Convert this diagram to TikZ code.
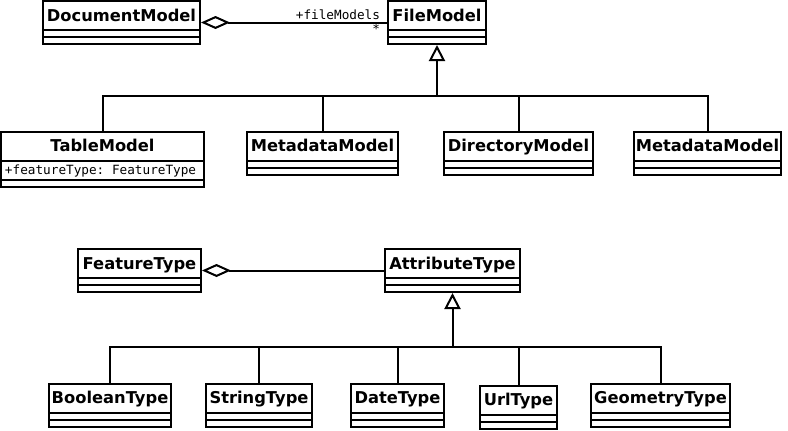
\documentclass[tikz,border=0pt]{standalone}
\usepackage{fontspec}
\setsansfont{DejaVu Sans}
\setmonofont{DejaVu Sans Mono}
\usetikzlibrary{arrows.meta}

\begin{document}
\begin{tikzpicture}[x=1pt,y=-1pt,line width=2pt, umlclass/.style={draw,line width=2pt,inner sep=0pt,text height=20pt,text depth=#1,font=\sffamily\bfseries\fontsize{16.3}{19}\selectfont,path picture={\draw[line width=2pt] ([yshift=7pt]path picture bounding box.south west)--([yshift=7pt]path picture bounding box.south east); \draw[line width=2pt] ([yshift=#1-9pt]path picture bounding box.south west)--([yshift=#1-9pt]path picture bounding box.south east);}}, umlclass/.default=23pt, member/.style={font=\ttfamily\fontsize{12.7}{15}\selectfont,inner sep=0pt}, inherit/.style={-{Triangle[open,length=16pt,width=16pt]}}, aggregate/.style={{Diamond[open,length=29pt,width=13pt]}-}]
\useasboundingbox (0,0) rectangle (788,431);
% file models
\node[umlclass,minimum width=157pt] (doc) at (121.5,22.5) {DocumentModel};
\node[umlclass,minimum width=98pt] (file) at (437,22.5) {FileModel};
\node[umlclass=35.5pt,minimum width=203pt] (table) at (102.5,159.25) {TableModel};
\node[member,anchor=base west] (tableattr) at (4,174) {+featureType: FeatureType};
\node[umlclass,minimum width=151pt] (meta) at (322.5,153) {MetadataModel};
\node[umlclass,minimum width=149pt] (dir) at (518.5,153) {DirectoryModel};
\node[umlclass,minimum width=147pt] (metab) at (707.5,153) {MetadataModel};
\draw[aggregate] (doc) -- (file) node[member,pos=1,anchor=south east,xshift=-6pt,yshift=2pt] (fmrole) {+fileModels} node[member,pos=1,anchor=north east,xshift=-6pt,yshift=-1pt] (fmmult) {*};
\coordinate (filebus) at (437,96);
\draw (table.north) |- (filebus); \draw (meta.north) |- (filebus); \draw (dir.north) |- (filebus); \draw (metab.north) |- (filebus);
\draw[inherit] (filebus) -- (file.south);
% attribute types
\node[umlclass,minimum width=123pt] (feat) at (139.5,270.5) {FeatureType};
\node[umlclass,minimum width=135pt] (attr) at (452.5,270.5) {AttributeType};
\node[umlclass,minimum width=122pt] (bool) at (110,405) {BooleanType};
\node[umlclass,minimum width=106pt] (str) at (259,405) {StringType};
\node[umlclass,minimum width=93pt] (date) at (397.5,405) {DateType};
\node[umlclass,minimum width=77pt] (url) at (518.5,407) {UrlType};
\node[umlclass,minimum width=139pt] (geo) at (660.5,405) {GeometryType};
\draw[aggregate] (feat) -- (attr);
\coordinate (attrbus) at (452.5,347);
\draw (bool.north) |- (attrbus); \draw (str.north) |- (attrbus); \draw (date.north) |- (attrbus); \draw (url.north) |- (attrbus); \draw (geo.north) |- (attrbus);
\draw[inherit] (attrbus) -- (attr.south);
\end{tikzpicture}
\end{document}
